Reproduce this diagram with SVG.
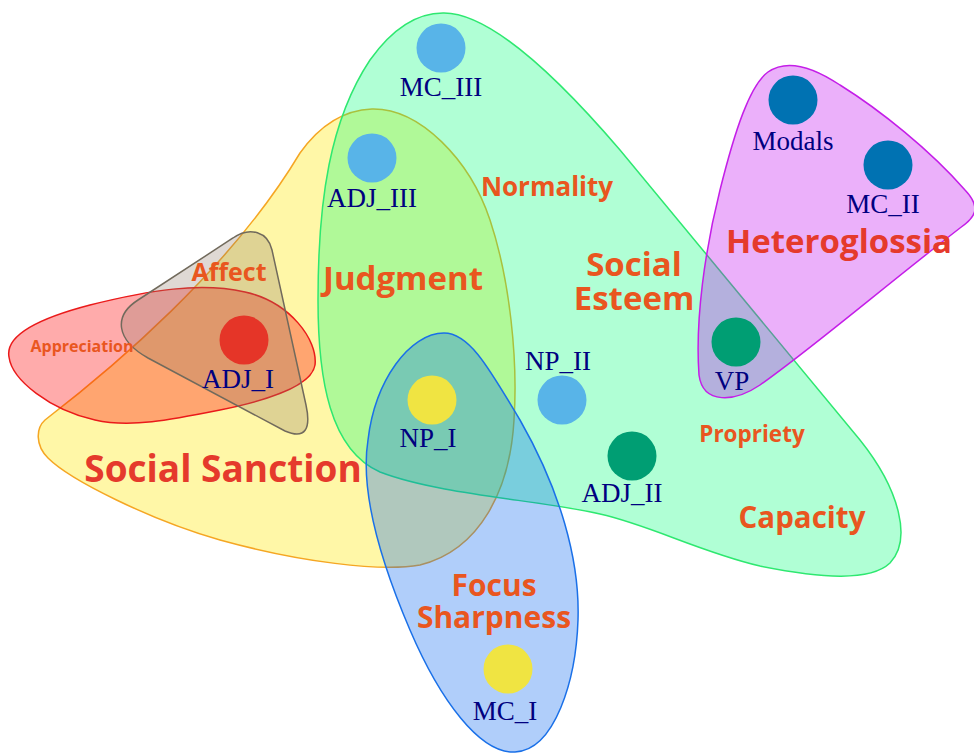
<svg xmlns="http://www.w3.org/2000/svg" width="974" height="753" viewBox="0 0 974 753">
<style>
.reg{stroke-width:1.5}
.cat{font-family:"Open Sans","Liberation Sans",sans-serif;font-weight:700;fill:#e9561f;text-anchor:middle}
.catr{fill:#e53a2c}
.lbl{font-family:"Liberation Serif","Times New Roman",serif;font-size:27px;fill:#000080;text-anchor:middle}
.sky{fill:#58b4e8}.dblue{fill:#0072b2}.bgreen{fill:#009e73}.red{fill:#e53528}.yel{fill:#f0e442}
</style>
<rect width="974" height="753" fill="#ffffff"/>
<g id="regions">
<path id="social-sanction" class="reg" fill="rgb(255,240,80)" fill-opacity="0.5" stroke="#f5a623" d="M45,420 C110,370 230,270 300,153 C320,125 345,110 372,109 C420,108 470,160 490,220 C510,280 518,360 514,420 C510,490 480,550 420,565 C380,572 300,562 220,540 C150,520 70,480 48,458 C35,445 36,428 45,420 Z"/>
<path id="social-esteem" class="reg" fill="rgb(0,255,120)" fill-opacity="0.31" stroke="#2ee870" d="M443,13 C490,12 560,80 620,150 L860,440 C900,490 912,540 890,563 C870,582 820,578 760,566 C700,552 650,525 600,514 C540,500 440,495 380,472 C330,450 318,380 318,300 C318,200 330,120 370,60 C395,25 420,13 443,13 Z"/>
<path id="appreciation" class="reg" fill="rgb(255,0,0)" fill-opacity="0.33" stroke="#ea1a1a" d="M9,357 C5,335 40,318 90,305 C150,290 200,282 245,292 C290,302 318,340 315,365 C312,385 270,400 220,410 C170,420 130,428 95,420 C50,410 12,380 9,357 Z"/>
<path id="affect" class="reg" fill="rgb(140,120,100)" fill-opacity="0.28" stroke="#716a5c" d="M233,238 C250,226 268,232 272,250 L306,405 C311,428 306,440 285,431 L148,358 C116,340 113,316 138,300 Z"/>
<path id="focus" class="reg" fill="rgb(0,96,240)" fill-opacity="0.31" stroke="#1a70e8" d="M444,333 C470,333 490,370 520,420 C560,490 580,560 578,620 C576,680 555,750 515,752 C480,754 440,700 410,630 C380,560 360,490 368,440 C375,380 410,333 444,333 Z"/>
<path id="heteroglossia" class="reg" fill="rgb(192,0,240)" fill-opacity="0.31" stroke="#c41ee8" d="M768,72 C785,60 810,65 840,85 C880,110 930,150 965,190 C982,208 975,218 960,228 C880,290 810,350 760,385 C735,402 703,405 699,375 C695,320 705,250 720,190 C735,130 750,85 768,72 Z"/>
</g>
<g id="category-labels">
<text class="cat" x="547" y="196" font-size="26">Normality</text>
<text class="cat" x="403" y="290" font-size="33">Judgment</text>
<text class="cat" x="634" y="276" font-size="33">Social</text>
<text class="cat" x="634" y="310" font-size="33">Esteem</text>
<text class="cat" x="229" y="281" font-size="25">Affect</text>
<text class="cat" x="82" y="352" font-size="16">Appreciation</text>
<text class="cat catr" x="223" y="482" font-size="37">Social Sanction</text>
<text class="cat catr" x="839" y="253" font-size="33">Heteroglossia</text>
<text class="cat" x="752" y="442" font-size="22.5">Propriety</text>
<text class="cat" x="802" y="528" font-size="29.5">Capacity</text>
<text class="cat" x="494" y="596" font-size="30">Focus</text>
<text class="cat" x="494" y="628" font-size="30">Sharpness</text>
</g>
<g id="connectors"></g>
<g id="MC_III"><circle class="sky" cx="441" cy="48" r="24.5"/><text class="lbl" x="441" y="96">MC_III</text></g>
<g id="ADJ_III"><circle class="sky" cx="372" cy="158" r="24.5"/><text class="lbl" x="372" y="207">ADJ_III</text></g>
<g id="Modals"><circle class="dblue" cx="793" cy="100" r="24.5"/><text class="lbl" x="793" y="150">Modals</text></g>
<g id="MC_II"><circle class="dblue" cx="888" cy="165" r="24.5"/><text class="lbl" x="883" y="213">MC_II</text></g>
<g id="VP"><circle class="bgreen" cx="736" cy="342" r="24.5"/><text class="lbl" x="732" y="390">VP</text></g>
<g id="ADJ_I"><circle class="red" cx="244" cy="340" r="24.5"/><text class="lbl" x="238" y="388">ADJ_I</text></g>
<g id="NP_I"><circle class="yel" cx="432" cy="400" r="24.5"/><text class="lbl" x="428" y="447">NP_I</text></g>
<g id="NP_II"><circle class="sky" cx="562" cy="400" r="24.5"/><text class="lbl" x="558" y="370">NP_II</text></g>
<g id="ADJ_II"><circle class="bgreen" cx="632" cy="456" r="24.5"/><text class="lbl" x="622" y="502">ADJ_II</text></g>
<g id="MC_I"><circle class="yel" cx="508" cy="669" r="24.5"/><text class="lbl" x="505" y="720">MC_I</text></g>
</svg>
